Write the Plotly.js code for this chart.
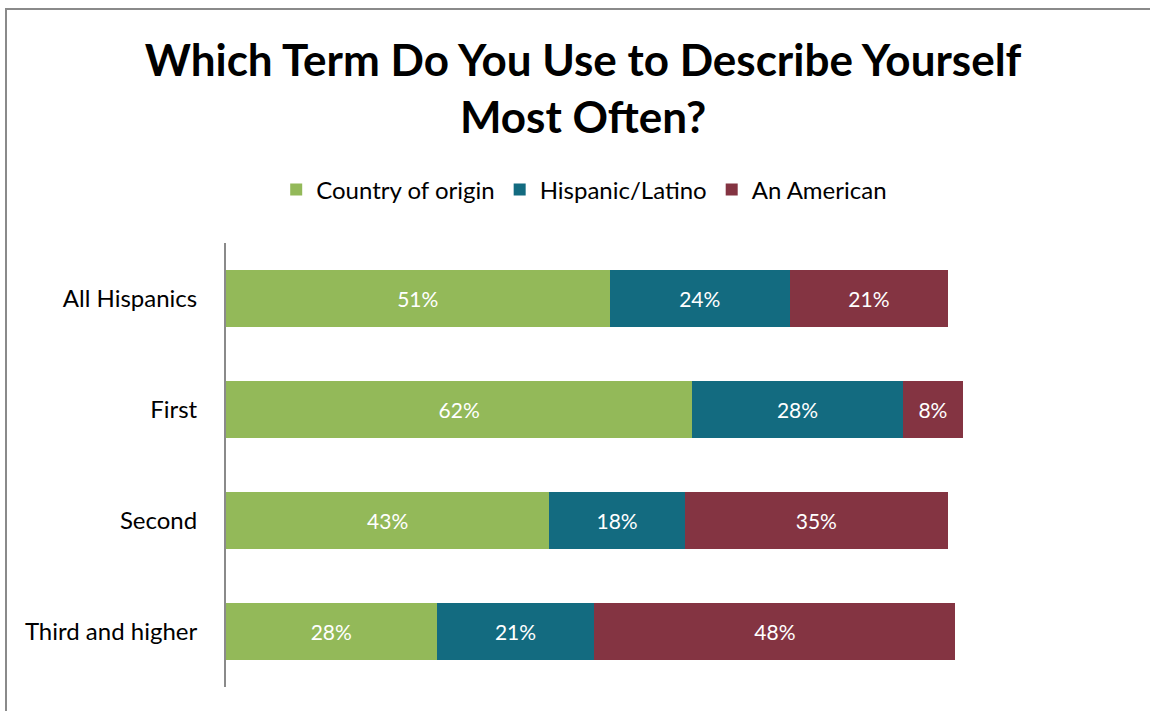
<!DOCTYPE html>
<html><head><meta charset="utf-8">
<script src="https://cdn.plot.ly/plotly-3.0.1.min.js"></script>
<style>
html,body{margin:0;padding:0;overflow:hidden;background:#fff;}
#chart{width:1150px;height:711px;}
#frame{position:absolute;left:5px;top:8px;width:1300px;height:900px;border:2px solid #8a8a8a;pointer-events:none;box-sizing:border-box;}
</style></head>
<body>
<div id="chart"></div>
<div id="frame"></div>
<script>
const categories = ["All Hispanics", "First", "Second", "Third and higher"];
const countryOfOrigin = [51, 62, 43, 28];
const hispanicLatino = [24, 28, 18, 21];
const anAmerican = [21, 8, 35, 48];
const seriesNames = ["Country of origin", "Hispanic/Latino", "An American"];
const colors = ["#93B959", "#136B80", "#843442"];
const FONT = "Lato, 'Open Sans', sans-serif";

const series = [countryOfOrigin, hispanicLatino, anAmerican];
const traces = series.map((vals, i) => ({
  type: "bar",
  orientation: "h",
  name: seriesNames[i],
  y: categories,
  x: vals,
  marker: {color: colors[i], line: {width: 0}},
  text: vals.map(v => v + "%"),
  textposition: "inside",
  insidetextanchor: "middle",
  textangle: 0,
  textfont: {color: "#ffffff", size: 21, family: FONT},
  hoverinfo: "skip"
}));

const layout = {
  width: 1150, height: 711,
  paper_bgcolor: "#ffffff", plot_bgcolor: "#ffffff",
  barmode: "stack",
  bargap: 0.486,
  margin: {l: 226, r: 172, t: 243, b: 24},
  font: {family: FONT, color: "#000"},
  title: {
    text: "<b>Which Term Do You Use to Describe Yourself<br>Most Often?</b>",
    font: {size: 44, family: FONT, color: "#000"},
    x: 0.507, xanchor: "center",
    y: 1 - 76/711, yanchor: "middle", yref: "container"
  },
  showlegend: true,
  legend: {
    orientation: "h",
    x: 0.508, xanchor: "center", xref: "container",
    y: 1 - 190/711, yanchor: "middle", yref: "container",
    font: {size: 24, family: FONT, color: "#000"},
    traceorder: "normal",
    itemwidth: 30
  },
  xaxis: {
    range: [0, 100],
    showgrid: false, zeroline: false, showline: false,
    showticklabels: false, ticks: ""
  },
  yaxis: {
    autorange: "reversed",
    showgrid: false, zeroline: false,
    showline: true, linecolor: "#8a8a8a", linewidth: 2,
    ticks: "", ticklabelstandoff: 22,
    tickfont: {size: 24, family: FONT, color: "#000"}
  }
};

Plotly.newPlot("chart", traces, layout, {displayModeBar: false, staticPlot: true});
</script>
</body></html>
